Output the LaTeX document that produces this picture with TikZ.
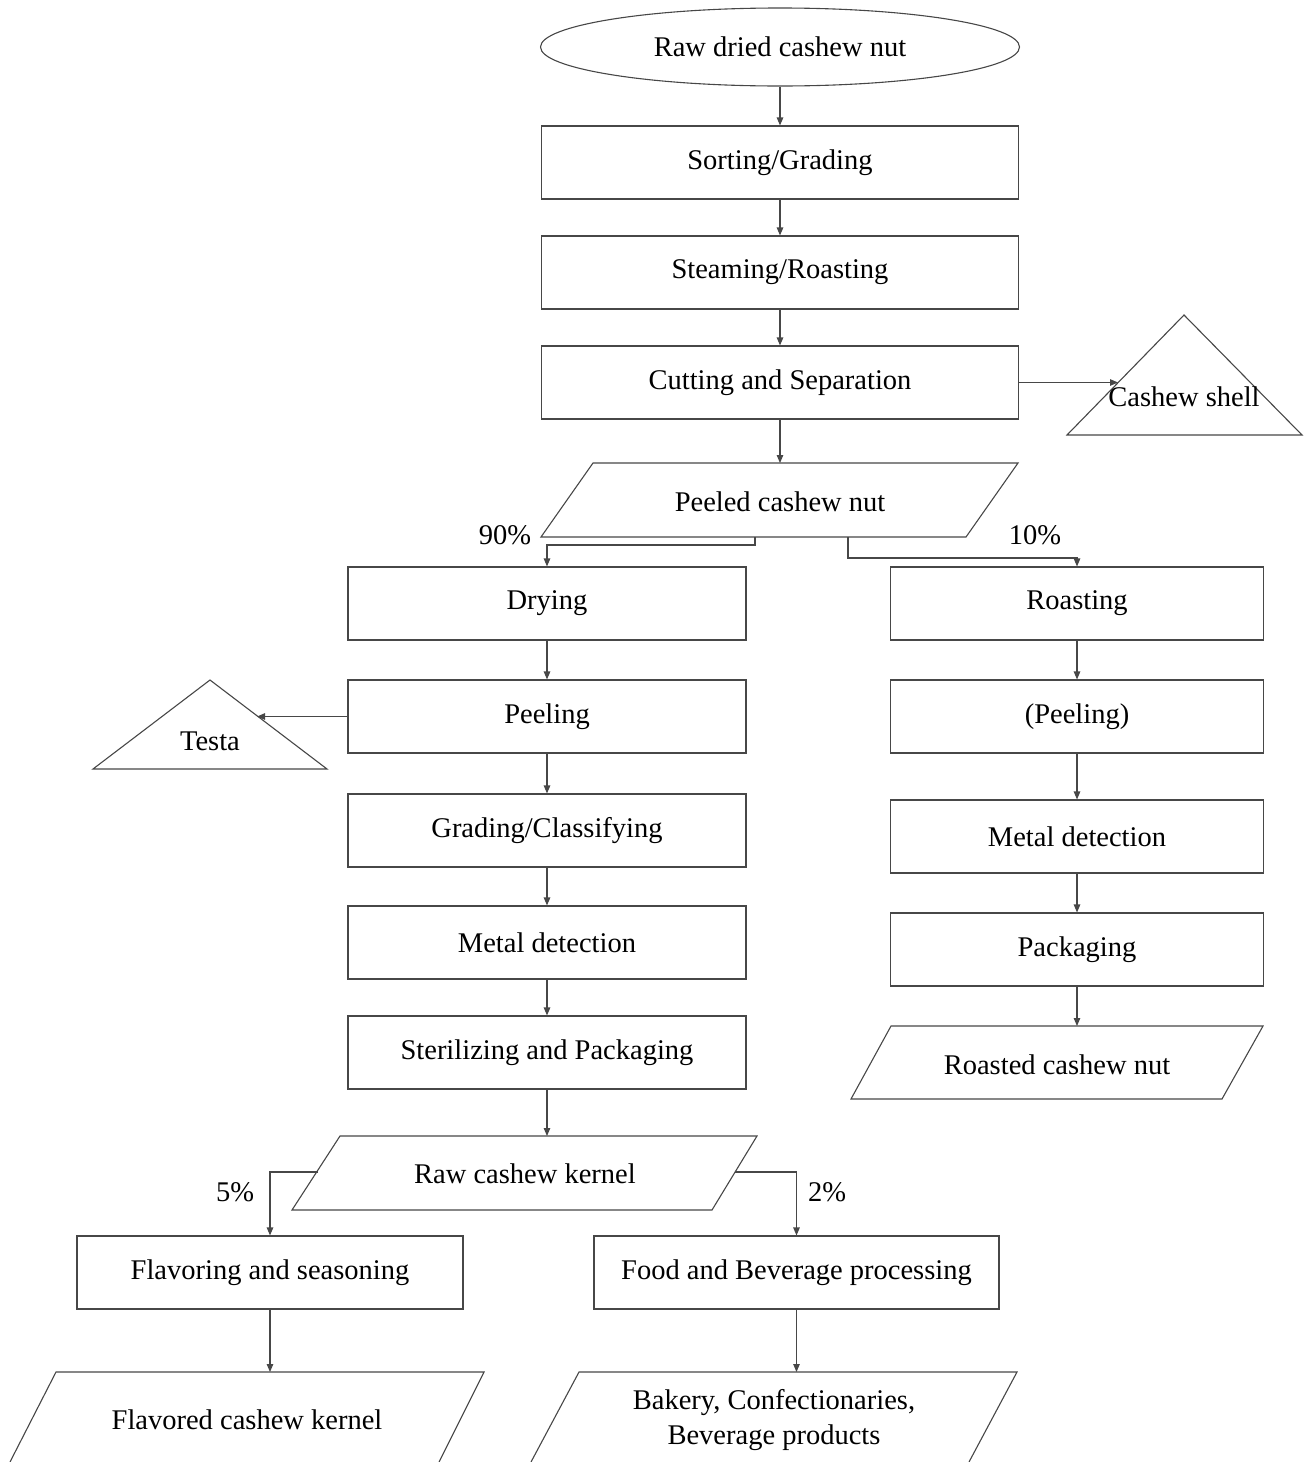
\documentclass[tikz,border=0pt]{standalone}
\usepackage{fontspec}
\setmainfont{Liberation Serif}
\usetikzlibrary{arrows.meta,shapes.geometric}
\begin{document}
\begin{tikzpicture}[x=1pt,y=-1pt,
  line/.style={draw=black!72, line width=1.1pt},
  arr/.style={line, -{Triangle[length=8pt,width=6.5pt]}},
  txt/.style={font=\fontsize{28.5}{35}\selectfont, inner sep=0pt, align=center},
  lift/.style={yshift=-2pt},
  box/.style={line, txt, rectangle, minimum height=73pt},
  bigbox/.style={box, minimum width=477pt},
  lbox/.style={box, minimum width=398pt},
  rbox/.style={box, minimum width=373pt}]
\useasboundingbox (0,0) rectangle (1311,1462);

% ---- main trunk ----
\node[line, txt, ellipse, minimum width=479pt, minimum height=78pt] (raw) at (780,47) {Raw dried cashew nut};
\node[bigbox] (sort)  at (780,162.5) {Sorting/Grading};
\node[bigbox] (steam) at (780,272.5) {Steaming/Roasting};
\node[bigbox] (cut)   at (780,382.5) {Cutting and Separation};

\draw[arr] (raw.south) -- (sort.north);
\draw[arr] (sort.south) -- (steam.north);
\draw[arr] (steam.south) -- (cut.north);

% cashew shell by-product
\draw[line] (1067,435) -- (1184,315) -- (1302,435) -- cycle;
\node[txt, lift] (shell) at (1184,395) {Cashew shell};
\coordinate (shellin) at (1118,382.5);
\draw[arr] (cut.east) -- (shellin);

% peeled cashew nut
\draw[line] (593,463) -- (1018,463) -- (966,537) -- (541,537) -- cycle;
\node[txt, lift] (peeled) at (780,500) {Peeled cashew nut};
\coordinate (peeledtop) at (780,463);
\draw[arr] (cut.south) -- (peeledtop);

% ---- left branch (90%) ----
\node[lbox] (dry)   at (547,603.5)  {Drying};
\node[lbox] (peel)  at (547,716.5)  {Peeling};
\node[lbox] (grade) at (547,830.5)  {Grading/Classifying};
\node[lbox] (metl)  at (547,942.5)  {Metal detection};
\node[lbox] (steri) at (547,1052.5) {Sterilizing and Packaging};

\coordinate (p90) at (755,537);
\coordinate (p10) at (848,537);
\draw[arr] (p90) -- ++(0,8) -| (dry.north);
\node[txt, lift] (l90) at (505,533) {90\%};

\draw[arr] (dry.south) -- (peel.north);
\draw[arr] (peel.south) -- (grade.north);
\draw[arr] (grade.south) -- (metl.north);
\draw[arr] (metl.south) -- (steri.north);

% testa by-product
\draw[line] (93,769) -- (210,680) -- (327,769) -- cycle;
\node[txt, lift] (testa) at (210,739) {Testa};
\coordinate (testain) at (257,716.5);
\draw[arr] (peel.west) -- (testain);

% ---- right branch (10%) ----
\node[rbox] (roast)  at (1077,603.5) {Roasting};
\node[rbox] (rpeel)  at (1077,716.5) {(Peeling)};
\node[rbox] (rmetl)  at (1077,836.5) {Metal detection};
\node[rbox] (rpack)  at (1077,949.5) {Packaging};

\draw[arr] (p10) -- ++(0,21) -| (roast.north);
\node[txt, lift] (l10) at (1035,533) {10\%};

\draw[arr] (roast.south) -- (rpeel.north);
\draw[arr] (rpeel.south) -- (rmetl.north);
\draw[arr] (rmetl.south) -- (rpack.north);

\draw[line] (891,1026) -- (1263,1026) -- (1222,1099) -- (851,1099) -- cycle;
\node[txt, lift] (roasted) at (1057,1063) {Roasted cashew nut};
\coordinate (roastedtop) at (1077,1026);
\draw[arr] (rpack.south) -- (roastedtop);

% ---- raw cashew kernel ----
\draw[line] (340,1136) -- (757,1136) -- (712,1210) -- (292,1210) -- cycle;
\node[txt, lift] (kernel) at (525,1172) {Raw cashew kernel};
\coordinate (kerneltop) at (547,1136);
\draw[arr] (steri.south) -- (kerneltop);

\node[box, minimum width=386pt] (flav) at (270,1272.5) {Flavoring and seasoning};
\node[box, minimum width=405pt] (food) at (796.5,1272.5) {Food and Beverage processing};

\coordinate (k5) at (318,1172);
\coordinate (k2) at (735,1172);
\draw[arr] (k5) -| (flav.north);
\draw[arr] (k2) -| (food.north);
\node[txt, lift] (l5) at (235,1190) {5\%};
\node[txt, lift] (l2) at (827,1190) {2\%};

% ---- final products ----
\draw[line] (10,1462) -- (56,1372) -- (484,1372) -- (439,1462);
\node[txt, lift] (flavored) at (247,1418) {Flavored cashew kernel};
\coordinate (flavtop) at (270,1372);
\draw[arr] (flav.south) -- (flavtop);

\draw[line] (531,1462) -- (579,1372) -- (1017,1372) -- (969,1462);
\node[txt, lift] (bakery) at (774,1418) {Bakery, Confectionaries,\\Beverage products};
\coordinate (bakerytop) at (796.5,1372);
\draw[arr] (food.south) -- (bakerytop);
\end{tikzpicture}
\end{document}
